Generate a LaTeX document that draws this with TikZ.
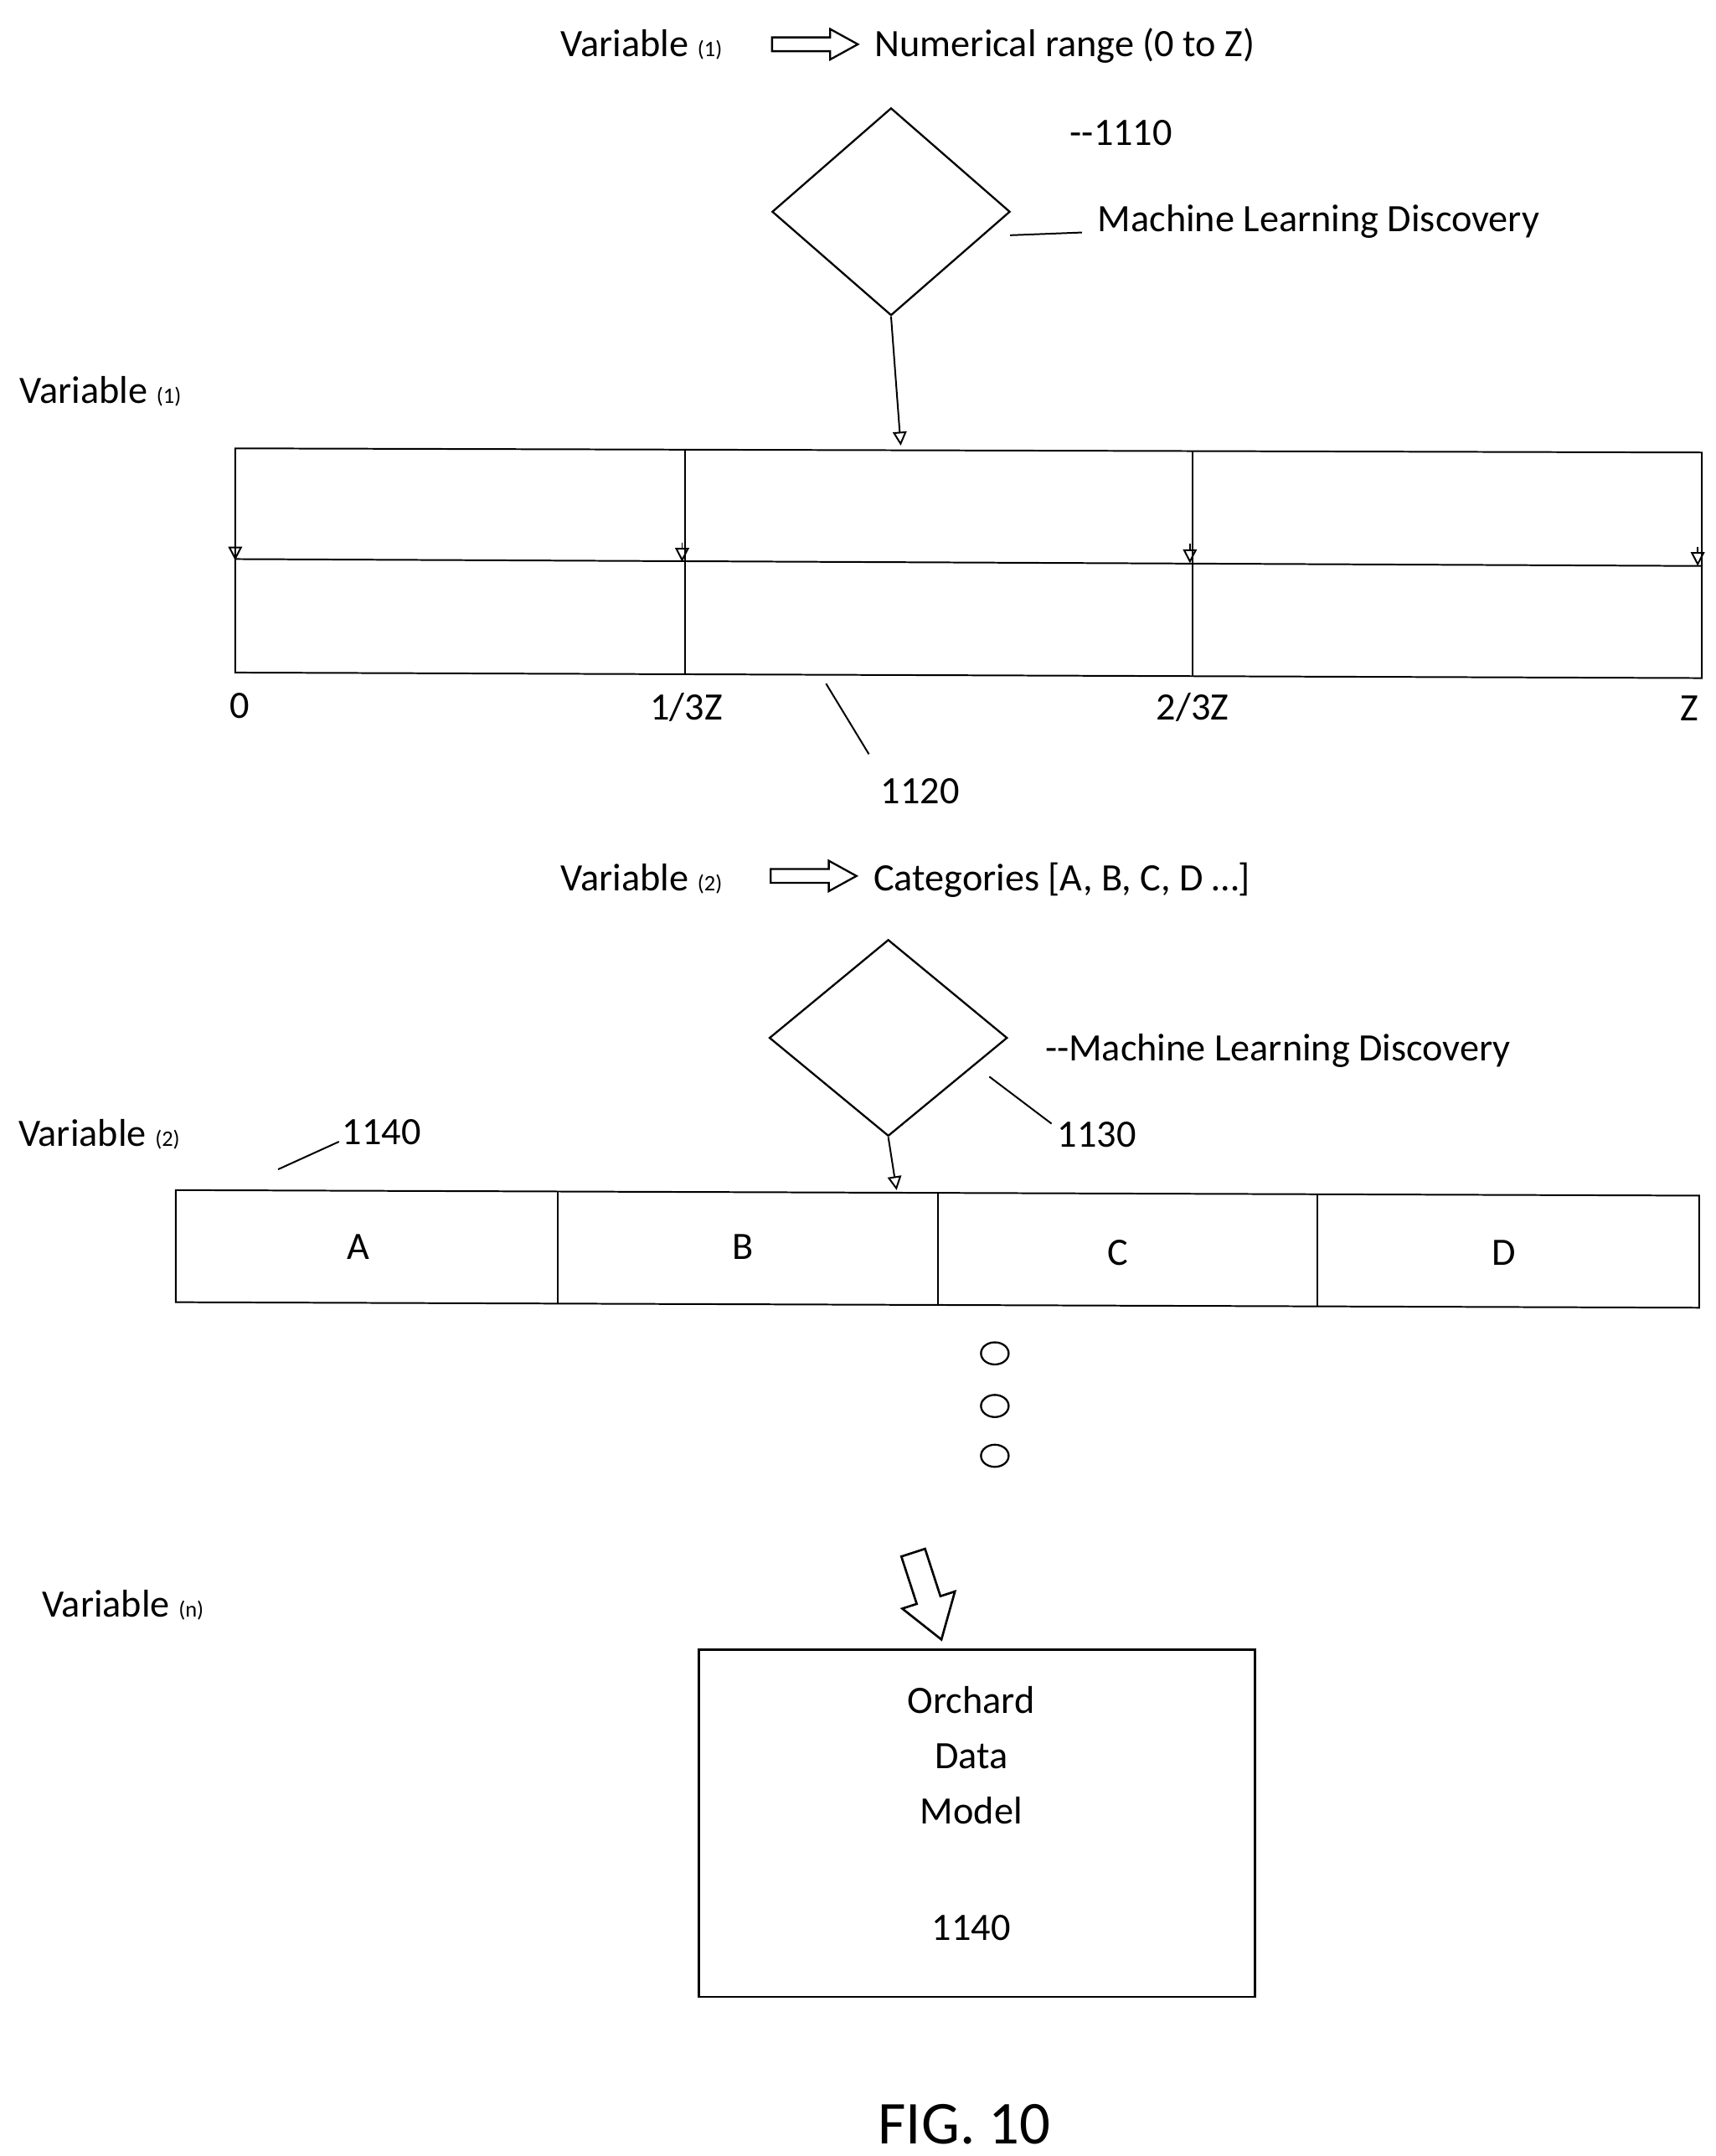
\documentclass[tikz,border=0pt]{standalone}
\usepackage{fontspec}
\setmainfont{Carlito}
\usetikzlibrary{shapes.geometric,arrows.meta}
\begin{document}
\begin{tikzpicture}[x=0.5pt,y=-0.5pt,
  txt/.style={font=\fontsize{14}{17}\selectfont,inner sep=0pt},
  ln/.style={line width=0.6pt},
  dia/.style={diamond,draw,line width=0.7pt,aspect=1.15},
  tip/.style={ln,-{Triangle[open,length=5pt,width=5pt]}}]
\useasboundingbox (0,0) rectangle (1240,1558);
% top line
\node[txt,anchor=west] (v1a) at (405,32) {Variable {\footnotesize(1)}};
\coordinate (ha1) at (558,32);
\draw[line width=0.7pt] (ha1) ++(0,-5) -- ++(42,0) -- ++(0,-6) -- ++(20,11) -- ++(-20,11) -- ++(0,-6) -- ++(-42,0) -- cycle;
\node[txt,anchor=west] (nr) at (632,33) {Numerical range (0 to Z)};
\node[txt,anchor=west] (n1110) at (773,96) {-{}-1110};
\node[dia,minimum width=86pt,minimum height=75pt] (d1) at (644,153) {};
\coordinate (l1a) at (730,170); \coordinate (l1b) at (782,168);
\draw[ln] (l1a) -- (l1b);
\node[txt,anchor=west] (mld1) at (793,160) {Machine Learning Discovery};
\node[txt,anchor=west] (v1b) at (14,283) {Variable {\footnotesize(1)}};
% range box
\coordinate (r1) at (170,324); \coordinate (r2) at (1230,327);
\coordinate (r3) at (1230,490); \coordinate (r4) at (170,486);
\draw[ln] (r1)--(r2)--(r3)--(r4)--cycle;
\coordinate (m1) at (170,404); \coordinate (m2) at (1230,409);
\draw[ln] (m1)--(m2);
\coordinate (t1) at (495,325); \coordinate (b1) at (495,487);
\coordinate (t2) at (862,326); \coordinate (b2) at (862,489);
\draw[ln] (t1)--(b1); \draw[ln] (t2)--(b2);
\coordinate (d1e) at (651,322);
\draw[tip] (d1.south) -- (d1e);
\foreach \x/\y [count=\i] in {170/405,493/406,860/407,1227/409}{
  \coordinate (sa\i) at (\x,\y-14); \coordinate (sb\i) at (\x,\y);
  \draw[tip] (sa\i)--(sb\i);}
\node[txt] (z0) at (173,510) {0};
\node[txt] (z1) at (496,511) {1/3Z};
\node[txt] (z2) at (862,511) {2/3Z};
\node[txt] (z3) at (1221,512) {Z};
\coordinate (l2a) at (597,494); \coordinate (l2b) at (628,545);
\draw[ln] (l2a)--(l2b);
\node[txt] (n1120) at (665,572) {1120};
% second
\node[txt,anchor=west] (v2a) at (405,635) {Variable {\footnotesize(2)}};
\coordinate (ha2) at (557,633);
\draw[line width=0.7pt] (ha2) ++(0,-5) -- ++(42,0) -- ++(0,-6) -- ++(20,11) -- ++(-20,11) -- ++(0,-6) -- ++(-42,0) -- cycle;
\node[txt,anchor=west] (cat) at (631,636) {Categories [A, B, C, D …]};
\node[dia,minimum width=86pt,minimum height=71pt] (d2) at (642,750) {};
\node[txt,anchor=west] (mld2) at (755,759) {-{}-Machine Learning Discovery};
\coordinate (l3a) at (715,778); \coordinate (l3b) at (760,812);
\draw[ln] (l3a)--(l3b);
\node[txt,anchor=west] (n1130) at (764,820) {1130};
\node[txt,anchor=west] (v2b) at (13,820) {Variable {\footnotesize(2)}};
\node[txt,anchor=west] (n1140a) at (247,818) {1140};
\coordinate (l4a) at (201,845); \coordinate (l4b) at (245,825);
\draw[ln] (l4a)--(l4b);
\coordinate (d2e) at (648,860);
\draw[tip] (d2.south) -- (d2e);
\coordinate (c1) at (127,860); \coordinate (c2) at (1228,864);
\coordinate (c3) at (1228,945); \coordinate (c4) at (127,941);
\draw[ln] (c1)--(c2)--(c3)--(c4)--cycle;
\foreach \x/\a/\b [count=\i] in {403/861/942,678/862/943,952/863/944}{
  \coordinate (ct\i) at (\x,\a); \coordinate (cb\i) at (\x,\b);
  \draw[ln] (ct\i)--(cb\i);}
\node[txt] (lA) at (259,901) {A};
\node[txt] (lB) at (537,901) {B};
\node[txt] (lC) at (808,905) {C};
\node[txt] (lD) at (1087,905) {D};
\foreach \y [count=\i] in {978,1016,1052}
  \node[ellipse,draw,line width=0.7pt,minimum width=10pt,minimum height=8pt,inner sep=0pt] (e\i) at (719,\y) {};
% big arrow
\coordinate (bg) at (660,1122);
\begin{scope}[shift={(bg)},rotate=18]
\draw[line width=0.8pt] (-9,0) -- (9,0) -- (9,36) -- (20,36) -- (0,66) -- (-20,36) -- (-9,36) -- cycle;
\end{scope}
\node[txt,anchor=west] (vn) at (30,1160) {Variable {\footnotesize(n)}};
\node[draw,line width=0.8pt,minimum width=201pt,minimum height=125.5pt] (odm) at (706,1317.5) {};
\node[txt,align=center,anchor=north] (odmt) at (702,1218) {Orchard\\[3pt]Data\\[3pt]Model\\[25pt]1140};
\node[font=\fontsize{22}{26}\selectfont,inner sep=0pt] (fig) at (697,1535) {FIG. 10};
\end{tikzpicture}
\end{document}
